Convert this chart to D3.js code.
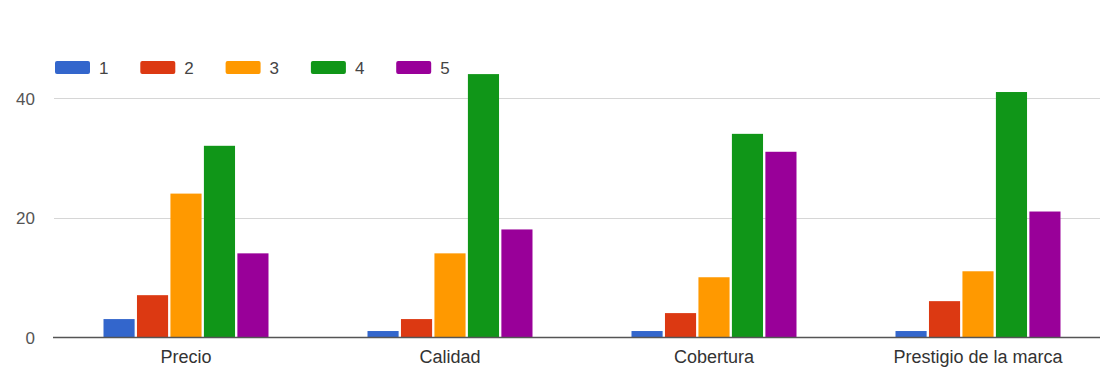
<!DOCTYPE html>
<html>
<head>
<meta charset="utf-8">
<script src="https://cdn.jsdelivr.net/npm/d3@7"></script>
<style>
  html, body { margin: 0; padding: 0; background: #fff; }
  svg { display: block; font-family: "Liberation Sans", Arial, sans-serif; }
</style>
</head>
<body>
<svg id="chart" width="1100" height="379"></svg>
<script>
// Survey ratings (1–5) per attribute
const categories = ["Precio", "Calidad", "Cobertura", "Prestigio de la marca"];
const seriesNames = ["1", "2", "3", "4", "5"];
const rating1 = [3, 1, 1, 1];
const rating2 = [7, 3, 4, 6];
const rating3 = [24, 14, 10, 11];
const rating4 = [32, 44, 34, 41];
const rating5 = [14, 18, 31, 21];
const yTicks = [0, 20, 40];
const colors = ["#3366cc", "#dc3912", "#ff9900", "#109618", "#990099"];

const seriesValues = [rating1, rating2, rating3, rating4, rating5];

const svg = d3.select("#chart");
const width = 1100;
const fontFamily = "\"Liberation Sans\", Arial, sans-serif";

const y = d3.scaleLinear().domain([0, 40]).range([337, 98]);

const x0 = d3.scaleBand()
  .domain(categories)
  .range([54, 1110])
  .paddingInner(0.375)
  .paddingOuter(0.1875);

const x1 = d3.scaleBand()
  .domain(seriesNames)
  .range([0, x0.bandwidth()])
  .paddingInner(0.07)
  .paddingOuter(0);

// Gridlines
svg.append("g")
  .selectAll("line")
  .data(yTicks.filter(d => d !== 0))
  .join("line")
  .attr("x1", 54)
  .attr("x2", width)
  .attr("y1", d => Math.round(y(d)) + 0.5)
  .attr("y2", d => Math.round(y(d)) + 0.5)
  .attr("stroke", "#d6d6d6")
  .attr("stroke-width", 1);

// Y axis labels
const yAxis = d3.axisLeft(y).tickValues(yTicks).tickSize(0).tickPadding(0);
const yg = svg.append("g").attr("transform", "translate(35,1)").call(yAxis);
yg.select(".domain").remove();
yg.selectAll("text")
  .attr("fill", "#555")
  .attr("font-size", 17)
  .attr("font-family", fontFamily);

// Bars
const groups = svg.append("g")
  .selectAll("g")
  .data(categories)
  .join("g")
  .attr("transform", d => `translate(${x0(d)},0)`);

groups.selectAll("rect")
  .data((c, i) => seriesNames.map((s, j) => ({ s, v: seriesValues[j][i], color: colors[j] })))
  .join("rect")
  .attr("x", d => x1(d.s))
  .attr("width", x1.bandwidth())
  .attr("y", d => y(d.v))
  .attr("height", d => y(0) - y(d.v))
  .attr("fill", d => d.color);

// Baseline
svg.append("line")
  .attr("x1", 53)
  .attr("x2", width)
  .attr("y1", Math.round(y(0)) + 0.5)
  .attr("y2", Math.round(y(0)) + 0.5)
  .attr("stroke", "#555")
  .attr("stroke-width", 1.5);

// X axis labels
const xAxis = d3.axisBottom(x0).tickSize(0).tickPadding(0);
const xg = svg.append("g").attr("transform", "translate(0,350)").call(xAxis);
xg.select(".domain").remove();
xg.selectAll("text")
  .attr("fill", "#333")
  .attr("font-size", 18)
  .attr("font-family", fontFamily);

// Legend
const legend = svg.append("g")
  .selectAll("g")
  .data(seriesNames)
  .join("g")
  .attr("transform", (d, i) => `translate(${55 + i * 85.3},61)`);

legend.append("rect")
  .attr("width", 35)
  .attr("height", 13)
  .attr("rx", 2)
  .attr("fill", (d, i) => colors[i]);

legend.append("text")
  .attr("x", 44)
  .attr("y", 13)
  .attr("font-size", 17)
  .attr("fill", "#444")
  .text(d => d);
</script>
</body>
</html>
